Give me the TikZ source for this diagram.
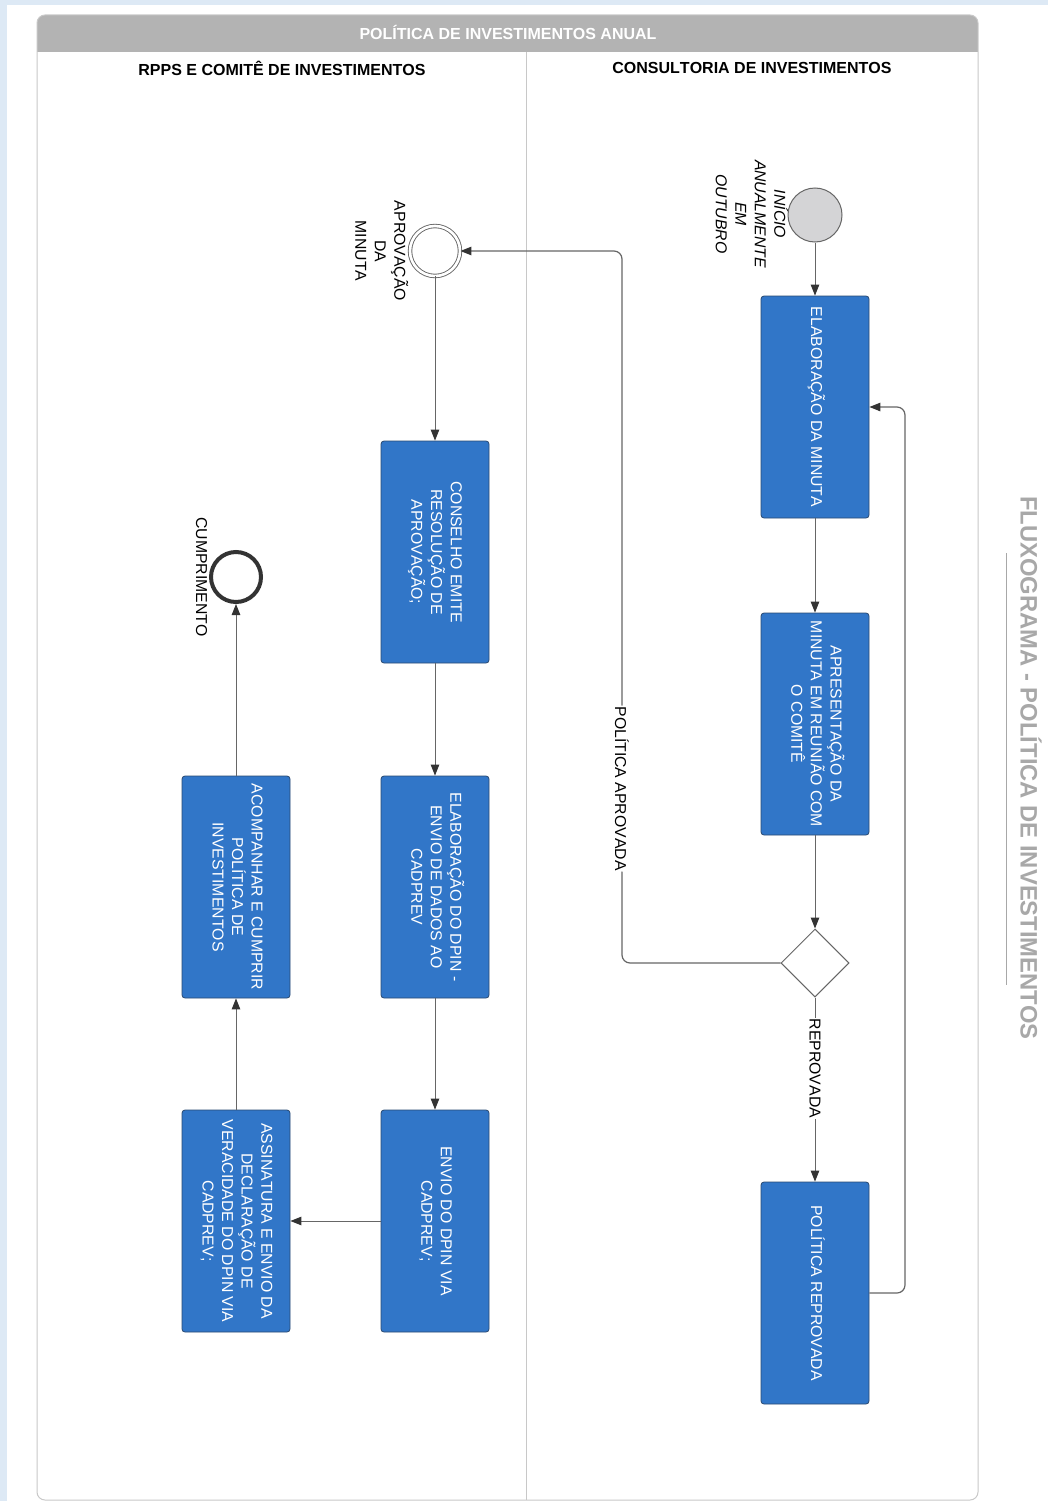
\documentclass[tikz,border=0pt]{standalone}
\usepackage{fontspec}
\setmainfont[Kerning=Off]{Liberation Sans}
\usetikzlibrary{arrows.meta,shapes.geometric}
\definecolor{boxblue}{HTML}{3176C8}
\definecolor{boxedge}{HTML}{2A4A72}
\definecolor{linegray}{HTML}{666666}
\definecolor{tipgray}{HTML}{333333}
\definecolor{framegray}{HTML}{C8C8C8}
\definecolor{headgray}{HTML}{B3B3B3}
\definecolor{bgblue}{HTML}{DDE9F5}
\definecolor{startgray}{HTML}{D4D4D6}
\definecolor{titlegray}{HTML}{A8A8A8}
\newcommand{\rt}[1]{\rotatebox{-90}{\begin{tabular}{@{}c@{}}#1\end{tabular}}}
\begin{document}
\begin{tikzpicture}[x=1pt,y=-1pt,
  box/.style={draw=boxedge, fill=boxblue, line width=0.8pt, rounded corners=3pt,
    minimum width=108pt, minimum height=222pt, inner sep=0pt, text=white,
    font=\fontsize{15.8}{19.5}\selectfont},
  flow/.style={draw=linegray, line width=1pt,
    -{Triangle[length=11pt,width=8.5pt,color=tipgray]}},
  elbow/.style={flow, rounded corners=8pt, line width=1.2pt},
  lbl/.style={fill=white, inner sep=1pt, text=black, font=\fontsize{15.8}{19.5}\selectfont},
  txt/.style={inner sep=0pt, text=black, font=\fontsize{15.8}{19.5}\selectfont},
  lanehead/.style={inner sep=0pt, font=\bfseries\fontsize{16}{18}\selectfont}]
\useasboundingbox (0,0) rectangle (1048,1501);
% background
\fill[white] (0,0) rectangle (1048,1501);
\fill[bgblue] (0,0) rectangle (1048,5);
\fill[bgblue] (0,0) rectangle (7,1501);
% pool frame
\begin{scope}
  \clip[rounded corners=8pt] (37,15) rectangle (978,1500);
  \fill[headgray] (37,15) rectangle (978,52);
\end{scope}
\draw[framegray, line width=1pt, rounded corners=8pt] (37,15) rectangle (978,1500);
\draw[framegray, line width=1pt] (526,52) -- (526,1500);
\node[lanehead, text=white] (pooltitle) at (508,32) {POLÍTICA DE INVESTIMENTOS ANUAL};
\node[lanehead] (lane1) at (282,68) {RPPS E COMITÊ DE INVESTIMENTOS};
\node[lanehead] (lane2) at (752,68) {CONSULTORIA DE INVESTIMENTOS};
% side title
\node[inner sep=0pt, text=titlegray, font=\bfseries\fontsize{23.8}{26}\selectfont] (sidetitle) at (1031,768)
  {\rotatebox{-90}{FLUXOGRAMA - POLÍTICA DE INVESTIMENTOS}};
\draw[titlegray, line width=1pt] (1006,553) -- (1006,985);
% consultoria lane
\node[circle, draw=linegray, fill=startgray, line width=1pt, minimum size=54pt, inner sep=0pt] (start) at (815,215) {};
\node[txt, font=\itshape\fontsize{15.8}{19.5}\selectfont] (startlbl) at (749,214) {\rt{INÍCIO\\ANUALMENTE\\EM\\OUTUBRO}};
\node[box] (b1) at (815,407) {\rt{ELABORAÇÃO DA MINUTA}};
\node[box] (b2) at (815,724) {\rt{APRESENTAÇÃO DA\\MINUTA EM REUNIÃO COM\\O COMITÊ}};
\node[diamond, draw=linegray, fill=white, line width=1pt, minimum width=68pt, minimum height=68pt, inner sep=0pt] (d) at (815,963) {};
\node[box] (b3) at (815,1293) {\rt{POLÍTICA REPROVADA}};
% rpps lane
\node[circle, draw=linegray, double=white, double distance=2.6pt, line width=0.9pt, fill=white, minimum size=50pt, inner sep=0pt] (ap) at (435,251) {};
\node[txt] (aplbl) at (379,251) {\rt{APROVAÇÃO\\DA\\MINUTA}};
\node[box] (b4) at (435,552) {\rt{CONSELHO EMITE\\RESOLUÇÃO DE\\APROVAÇÃO;}};
\node[box] (b5) at (435,887) {\rt{ELABORAÇÃO DO DPIN -\\ENVIO DE DADOS AO\\CADPREV}};
\node[box] (b6) at (435,1221) {\rt{ENVIO DO DPIN VIA\\CADPREV;}};
\node[box] (b7) at (236,1221) {\rt{ASSINATURA E ENVIO DA\\DECLARAÇÃO DE\\VERACIDADE DO DPIN VIA\\CADPREV;}};
\node[box] (b8) at (236,887) {\rt{ACOMPANHAR E CUMPRIR\\POLÍTICA DE\\INVESTIMENTOS}};
\node[circle, draw=tipgray, line width=4pt, fill=white, minimum size=50pt, inner sep=0pt] (fim) at (236,577) {};
\node[txt] (fimlbl) at (200,577) {\rt{CUMPRIMENTO}};
% connectors
\draw[flow] (start) -- (b1);
\draw[flow] (b1) -- (b2);
\draw[flow] (b2) -- (d);
\draw[flow] (d.south) -- node[lbl, pos=0.385] {\rotatebox{-90}{REPROVADA}} (b3.north);
\coordinate (r1) at (905,1293);
\coordinate (r2) at (905,407);
\draw[elbow] (b3.east) -- (r1) -- (r2) -- (b1.east);
\coordinate (a1) at (622,963);
\coordinate (a2) at (622,251);
\draw[elbow] (d.west) -- (a1) -- node[lbl, pos=0.245] {\rotatebox{-90}{POLÍTICA APROVADA}} (a2) -- (ap.east);
\draw[flow] (ap) -- (b4);
\draw[flow] (b4) -- (b5);
\draw[flow] (b5) -- (b6);
\draw[flow] (b6) -- (b7);
\draw[flow] (b7) -- (b8);
\draw[flow] (b8) -- (fim);
\end{tikzpicture}
\end{document}
